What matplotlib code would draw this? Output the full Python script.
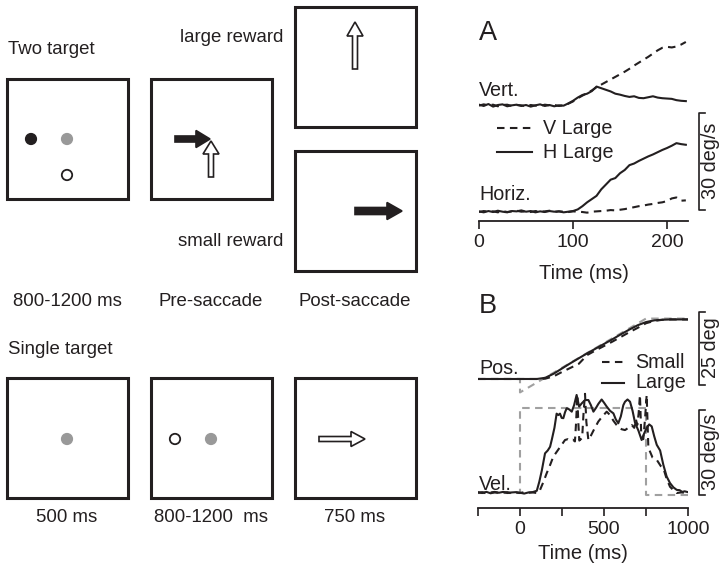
import numpy as np
import matplotlib
matplotlib.use("Agg")
import matplotlib.pyplot as plt
from matplotlib.patches import Rectangle, Circle, FancyArrow

plt.rcParams['font.family'] = ['Liberation Sans', 'DejaVu Sans']
INK = '#231f20'
GRAY = '#a0a0a0'
DOTGRAY = '#999999'

# ---------------- Panel A data (deg/s) ----------------
t_a = np.arange(0, 221, 5)
vert_h_large = [0.4, 0.0, 0.6, -0.2, 0.3, 0.5, -0.1, 0.2, 0.4, 0.0, 0.3, -0.2, 0.2, 0.5, 0.0, 0.3, -0.1, 0.2, 0.1,
                0.8, 1.6, 2.6, 3.4, 3.8, 4.6, 6.0, 5.5, 5.0, 4.5, 3.8, 3.5, 3.1, 2.8, 3.0, 2.5, 2.4, 2.7, 3.0, 2.6,
                2.4, 2.3, 2.2, 1.8, 1.6, 1.5]
vert_v_large = [0.1, 0.5, 0.2, 0.4, -0.1, 0.3, 0.4, 0.0, 0.3, 0.2, -0.1, 0.3, 0.1, 0.0, 0.4, 0.2, 0.3, 0.0, 0.2,
                0.7, 1.4, 2.4, 3.2, 4.0, 4.8, 5.8, 6.6, 7.4, 8.2, 9.0, 9.8, 10.6, 11.5, 12.5, 13.4, 14.3, 15.2,
                16.2, 17.2, 18.0, 18.3, 18.1, 18.4, 19.0, 19.8]
horiz_h_large = [0.2, -0.1, 0.3, 0.0, 0.4, 0.1, -0.1, 0.3, 0.2, 0.5, 0.1, 0.3, -0.1, 0.2, 0.0, 0.3, 0.1, 0.2, -0.1, 0.1,
                 0.3, 0.8, 1.8, 3.0, 4.0, 5.0, 7.0, 8.5, 10.0, 10.5, 12.0, 13.0, 14.5, 15.0, 15.8, 16.5, 17.2, 17.8,
                 18.5, 19.2, 19.8, 20.5, 21.3, 21.0, 20.8]
horiz_v_large = [0.0, 0.3, 0.1, 0.2, -0.1, 0.3, 0.0, 0.2, 0.4, 0.1, 0.2, 0.0, 0.3, 0.1, 0.2, 0.4, 0.0, 0.2, 0.1, 0.0, 0.2, 0.1,
                 0.0, -0.2, 0.1, 0.2, 0.3, 0.4, 0.6, 0.5, 0.7, 0.9, 1.2, 1.5, 1.8, 2.0, 2.3, 2.5, 2.8, 3.0, 3.4, 4.2,
                 4.5, 3.5, 3.6]
VERT_OFFSET = 32.8

# ---------------- Panel B data ----------------
t_pos = [-250, -200, -150, -100, -50, 0, 50, 100, 150, 200, 250, 300, 350, 400, 450, 500, 550, 600, 650, 700,
         750, 800, 850, 900, 950, 1000]
pos_large = [0, 0, 0, 0, 0, 0, 0, 0, 0.4, 1.8, 3.6, 5.4, 7.1, 8.8, 10.4, 12.0, 13.6, 15.3, 16.9, 18.4,
             19.5, 20.1, 20.3, 20.4, 20.4, 20.4]
pos_small = [0, 0, 0, 0, 0, 0, 0, 0, 0.1, 0.9, 2.4, 3.8, 5.2, 8.2, 9.8, 11.3, 12.8, 14.4, 16.0, 17.5,
             19.1, 19.9, 20.3, 20.4, 20.4, 20.4]
t_target_pos = [-250, 0, 0, 750, 1000]
target_pos = [0, 0, -4.6, 20.7, 20.7]
t_target_vel = [-250, 0, 0, 750, 750, 1000]
target_vel = [0, 0, 30, 30, -0.8, -0.8]

t_vel_large = [-250, -225, -200, -175, -150, -125, -100, -75, -50, -25,
               0, 25, 50, 75, 100, 115, 130, 149, 165, 179,
               190, 205, 218, 228, 238, 248, 258, 268, 278, 293,
               308, 322, 337, 352, 367, 387, 407, 422, 437, 452,
               467, 486, 501, 516, 536, 556, 570, 585, 600, 615,
               625, 640, 655, 670, 685, 705, 724, 739, 754, 769,
               784, 799, 814, 834, 853, 873, 893, 913, 933, 950,
               965, 980, 1000]
vel_large = [0.3, 0.0, 0.4, -0.1, 0.3, 0.1, 0.4, 0.0, 0.2, 0.3,
             0.1, -0.2, 0.2, 0.3, 0.8, 4.0, 8.0, 14.0, 15.0, 16.3,
             19.0, 23.0, 28.0, 27.5, 28.0, 26.5, 26.4, 28.5, 29.9, 29.5,
             28.7, 31.0, 34.6, 30.5, 31.6, 32.8, 32.8, 31.0, 28.7, 30.0,
             31.5, 33.0, 31.8, 30.5, 29.0, 28.1, 26.0, 24.6, 27.0, 31.0,
             32.2, 33.0, 32.2, 29.0, 24.7, 22.0, 18.7, 21.0, 23.0, 24.2,
             23.5, 20.0, 17.0, 15.0, 10.0, 5.8, 3.5, 2.0, 1.1, 1.0,
             0.4, 0.6, 0.3]
t_vel_small = [-250, -225, -200, -175, -150, -125, -100, -75, -50, -25,
               0, 25, 50, 75, 100, 115, 140, 159, 180, 198,
               230, 268, 285, 300, 315, 327, 334, 341, 347, 353,
               362, 370, 378, 387, 395, 407, 420, 437, 466, 490,
               516, 536, 556, 575, 585, 605, 625, 645, 665, 680,
               690, 698, 706, 714, 722, 734, 744, 754, 764, 789,
               814, 838, 853, 873, 893, 913, 933, 960, 1000]
vel_small = [0.1, 0.3, -0.1, 0.2, 0.4, 0.0, 0.2, 0.3, -0.1, 0.2,
             0.0, 0.3, 0.1, 0.2, 0.0, 0.5, 4.0, 7.0, 10.0, 12.8,
             15.5, 18.7, 19.0, 18.5, 18.8, 18.2, 25.0, 34.6, 25.0, 18.5,
             19.0, 19.5, 28.0, 35.0, 25.0, 18.7, 20.0, 22.0, 25.2, 27.0,
             28.7, 27.5, 25.5, 24.0, 23.4, 22.5, 22.2, 23.0, 24.0, 23.0,
             26.0, 24.0, 28.0, 34.6, 20.0, 19.0, 26.0, 34.6, 16.0, 12.5,
             11.7, 9.5, 8.8, 5.0, 2.2, 1.0, 0.0, 0.2, 0.0]

W, H = 728, 571
fig = plt.figure(figsize=(W / 100, H / 100), dpi=100)

# ---------------- Left schematic in pixel coordinates ----------------
ax0 = fig.add_axes([0, 0, 1, 1])
ax0.set_xlim(0, W)
ax0.set_ylim(H, 0)
ax0.axis('off')

boxes = [(7, 79), (151, 79), (295, 7), (295, 151), (7, 378), (151, 378), (295, 378)]
for (bx, by) in boxes:
    ax0.add_patch(Rectangle((bx, by), 121, 120, fill=False, edgecolor=INK, lw=2.2))

def dot(x, y, fc, ec):
    ax0.add_patch(Circle((x, y), 5.2, facecolor=fc, edgecolor=ec, lw=1.3))

dot(31, 139, INK, INK)
dot(67, 139, DOTGRAY, DOTGRAY)
dot(67, 175, 'white', INK)
dot(67, 439, DOTGRAY, DOTGRAY)
dot(175, 439, 'white', INK)
dot(211, 439, DOTGRAY, DOTGRAY)

def arrow(x, y, dx, dy, w, hw, hl, filled):
    ax0.add_patch(FancyArrow(x, y, dx, dy, width=w, head_width=hw, head_length=hl,
                             length_includes_head=True,
                             facecolor=INK if filled else 'white', edgecolor=INK, lw=1.2))

arrow(175, 139, 35, 0, 6, 17, 14, True)
arrow(211, 177, 0, -36, 5, 16, 13, False)
arrow(355, 69, 0, -47, 5, 16, 14, False)
arrow(355, 211, 47, 0, 7, 17, 15, True)
arrow(319, 439, 46, 0, 5, 15, 14, False)

FS = 13.4
FR = 14.2
ax0.text(8, 50, 'Two target', fontsize=FS, color=INK, va='center', ha='left')
ax0.text(283, 37, 'large reward', fontsize=FS, color=INK, va='center', ha='right')
ax0.text(283, 241, 'small reward', fontsize=FS, color=INK, va='center', ha='right')
ax0.text(67, 302, '800-1200 ms', fontsize=FS, color=INK, va='center', ha='center')
ax0.text(211, 302, 'Pre-saccade', fontsize=FS, color=INK, va='center', ha='center')
ax0.text(355, 302, 'Post-saccade', fontsize=FS, color=INK, va='center', ha='center')
ax0.text(8, 350, 'Single target', fontsize=FS, color=INK, va='center', ha='left')
ax0.text(67, 517, '500 ms', fontsize=FS, color=INK, va='center', ha='center')
ax0.text(211, 517, '800-1200  ms', fontsize=FS, color=INK, va='center', ha='center')
ax0.text(355, 517, '750 ms', fontsize=FS, color=INK, va='center', ha='center')

# labels on right side (pixel coords)
ax0.text(479, 33, 'A', fontsize=19.5, color=INK, va='center', ha='left')
ax0.text(479, 306, 'B', fontsize=19.5, color=INK, va='center', ha='left')
ax0.text(479, 90, 'Vert.', fontsize=FR, color=INK, va='center', ha='left')
ax0.text(479, 195, 'Horiz.', fontsize=FR, color=INK, va='center', ha='left')
ax0.text(479, 368, 'Pos.', fontsize=FR, color=INK, va='center', ha='left')
ax0.text(479, 484, 'Vel.', fontsize=FR, color=INK, va='center', ha='left')
ax0.text(711, 161, '30 deg/s', fontsize=FR, color=INK, va='center', ha='center', rotation=90)
ax0.text(711, 348, '25 deg', fontsize=FR, color=INK, va='center', ha='center', rotation=90)
ax0.text(711, 452, '30 deg/s', fontsize=FR, color=INK, va='center', ha='center', rotation=90)

DASH = (3.6, 2.6)
LW = 1.5
# legends (pixel coords)
ax0.plot([497, 532], [128, 128], color=INK, lw=LW, dashes=DASH)
ax0.plot([497, 532], [152, 152], color=INK, lw=LW)
ax0.text(543, 128, 'V Large', fontsize=FR, color=INK, va='center', ha='left')
ax0.text(543, 152, 'H Large', fontsize=FR, color=INK, va='center', ha='left')
ax0.plot([602, 624], [362, 362], color=INK, lw=LW, dashes=DASH)
ax0.plot([602, 624], [383, 383], color=INK, lw=LW)
ax0.text(635, 362, 'Small', fontsize=FR, color=INK, va='center', ha='left')
ax0.text(635, 383, 'Large', fontsize=FR, color=INK, va='center', ha='left')

def frac_rect(left, right, top, bottom):
    return [left / W, (H - bottom) / H, (right - left) / W, (bottom - top) / H]

def style_axis(ax):
    for s in ['top', 'right', 'left']:
        ax.spines[s].set_visible(False)
    ax.spines['bottom'].set_linewidth(1.3)
    ax.spines['bottom'].set_color(INK)
    ax.set_yticks([])
    ax.tick_params(axis='x', direction='out', length=5.5, width=1.2, color=INK,
                   labelsize=14, labelcolor=INK, pad=4)
    ax.patch.set_alpha(0)

# ---------------- Panel A ----------------
axA = fig.add_axes(frac_rect(479, 688, 30, 221))
style_axis(axA)
axA.set_xlim(0, 222.3)
axA.set_ylim(-2.78, 56.3)
axA.set_xticks([0, 100, 200])
axA.plot(t_a, np.array(vert_v_large) + VERT_OFFSET, color=INK, lw=LW, dashes=DASH)
axA.plot(t_a, np.array(vert_h_large) + VERT_OFFSET, color=INK, lw=LW)
axA.plot(t_a, horiz_v_large, color=INK, lw=LW, dashes=DASH)
axA.plot(t_a, horiz_h_large, color=INK, lw=LW)
axA.set_xlabel('Time (ms)', fontsize=14.5, color=INK, labelpad=9)
# scale bar 30 deg/s
axA.plot([240.5, 234, 234, 240.5], [30.6, 30.6, 0.6, 0.6], color=INK, lw=1.2, clip_on=False)

# ---------------- Panel B ----------------
rectB = frac_rect(478, 688, 300, 508)
axB = fig.add_axes(rectB)
style_axis(axB)
axB.set_xlim(-250, 1000)
axB.set_ylim(-5.29, 68.1)
axB.set_xticks([-250, 0, 250, 500, 750, 1000])
axB.set_xticklabels(['', '0', '', '500', '', '1000'])
axB.plot(t_target_vel, target_vel, color=GRAY, lw=LW, dashes=DASH)
axB.plot(t_vel_small, vel_small, color=INK, lw=LW, dashes=DASH)
axB.plot(t_vel_large, vel_large, color=INK, lw=LW)
axB.set_xlabel('Time (ms)', fontsize=14.5, color=INK, labelpad=4)
axB.plot([1101, 1065, 1065, 1101], [29.3, 29.3, -0.7, -0.7], color=INK, lw=1.2, clip_on=False)

axBp = fig.add_axes(rectB)
axBp.axis('off')
axBp.patch.set_alpha(0)
axBp.set_xlim(-250, 1000)
axBp.set_ylim(-44.2, 27.06)
axBp.plot(t_target_pos, target_pos, color=GRAY, lw=LW, dashes=DASH)
axBp.plot(t_pos, pos_small, color=INK, lw=LW, dashes=DASH)
axBp.plot(t_pos, pos_large, color=INK, lw=LW)
axBp.plot([1101, 1065, 1065, 1101], [22.9, 22.9, -2.1, -2.1], color=INK, lw=1.2, clip_on=False)

fig.savefig('out.png', dpi=100)
